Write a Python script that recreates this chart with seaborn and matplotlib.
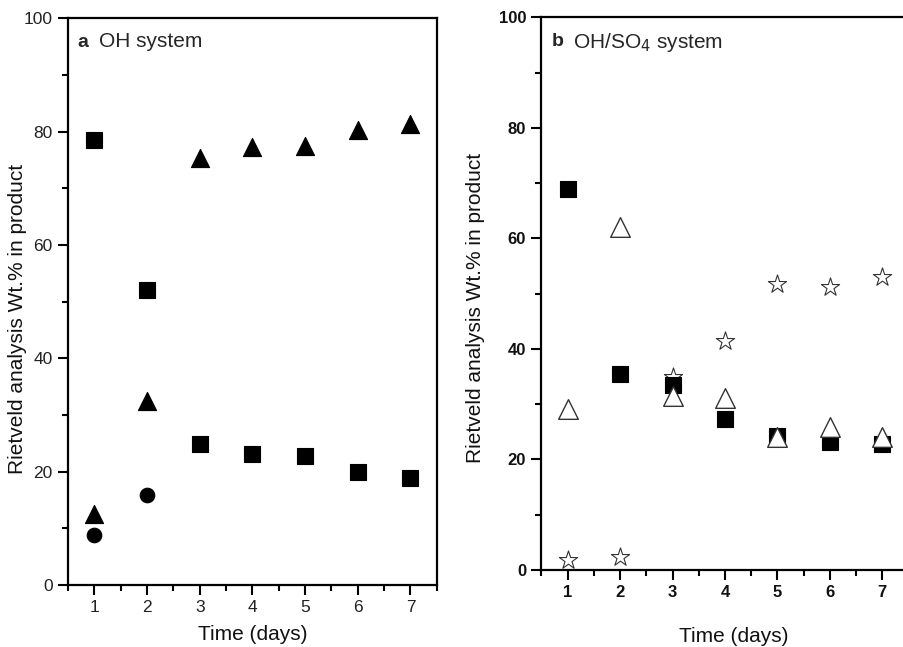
import matplotlib
matplotlib.use("Agg")
import matplotlib.pyplot as plt
import seaborn as sns
import pandas as pd
from matplotlib.ticker import MultipleLocator

# ---- data ----
days = [1, 2, 3, 4, 5, 6, 7]

# panel a: OH system
a_square_days = [1, 2, 3, 4, 5, 6, 7]
a_square = [78.5, 52.0, 24.8, 23.1, 22.8, 20.0, 18.8]
a_triangle_days = [1, 2, 3, 4, 5, 6, 7]
a_triangle = [12.6, 32.4, 75.3, 77.3, 77.5, 80.2, 81.3]
a_circle_days = [1, 2]
a_circle = [8.8, 15.8]

# panel b: OH/SO4 system
b_star_days = [1, 2, 3, 4, 5, 6, 7]
b_star = [1.9, 2.4, 35.0, 41.5, 51.8, 51.2, 53.1]
b_square_days = [1, 2, 3, 4, 5, 6, 7]
b_square = [68.9, 35.4, 33.5, 27.3, 24.2, 23.2, 22.8]
b_triangle_days = [1, 2, 3, 4, 5, 6, 7]
b_triangle = [29.1, 62.1, 31.5, 31.1, 24.1, 25.8, 24.1]

sns.set_theme(style="ticks")
plt.rcParams['font.family'] = ['Liberation Sans', 'DejaVu Sans']

fig = plt.figure(figsize=(9.04, 6.47), dpi=100)
axa = fig.add_axes([0.0752, 0.0958, 0.408, 0.876])
axb = fig.add_axes([0.599, 0.119, 0.406, 0.854])


def scat(ax, x, y, marker, s, filled=True, lw=0.8):
    df = pd.DataFrame({"day": x, "val": y})
    sns.scatterplot(data=df, x="day", y="val", ax=ax, marker=marker, s=s,
                    color="black" if filled else "white",
                    edgecolor="black" if filled else "#333333",
                    linewidth=lw, zorder=3, clip_on=False)


scat(axa, a_square_days, a_square, "s", 120)
scat(axa, a_triangle_days, a_triangle, "^", 170)
scat(axa, a_circle_days, a_circle, "o", 110)

scat(axb, b_star_days, b_star, "*", 190, filled=False, lw=0.8)
scat(axb, b_square_days, b_square, "s", 120)
scat(axb, b_triangle_days, b_triangle, "^", 200, filled=False, lw=1.0)

for ax, bold in ((axa, False), (axb, True)):
    ax.set_xlim(0.5, 7.5)
    ax.set_ylim(0, 100)
    ax.xaxis.set_major_locator(MultipleLocator(1))
    ax.xaxis.set_minor_locator(MultipleLocator(0.5))
    ax.yaxis.set_major_locator(MultipleLocator(20))
    ax.yaxis.set_minor_locator(MultipleLocator(10))
    ax.tick_params(which="major", direction="out", length=7, width=1.5,
                   labelsize=12 if bold else 12.5, color="black",
                   labelcolor="#111111" if bold else "#222222", pad=4)
    ax.tick_params(which="minor", direction="out", length=4, width=1.5, color="black")
    ax.tick_params(axis="x", which="both", top=False)
    ax.tick_params(axis="y", which="both", right=False)
    for sp in ax.spines.values():
        sp.set_visible(True)
        sp.set_linewidth(1.6)
        sp.set_color("black")
    ax.set_xlabel("Time (days)", fontsize=15, color="#111111")
    ax.set_ylabel("Rietveld analysis Wt.% in product", fontsize=15, color="#111111")
    if bold:
        for lab in ax.get_xticklabels() + ax.get_yticklabels():
            lab.set_fontweight("bold")
    ax.set_facecolor("white")

# label positions (axes fractions)
axa.xaxis.set_label_coords(0.5, -0.087)
axa.xaxis.label.set_va("center")
axa.yaxis.set_label_coords(-0.111, 0.47)
axb.xaxis.set_label_coords(0.524, -0.12)
axb.xaxis.label.set_va("center")
axb.yaxis.set_label_coords(-0.155, 0.475)

axa.text(0.025, 0.972, "a", transform=axa.transAxes, fontsize=14, fontweight="bold", va="top")
axa.text(0.085, 0.975, "OH system", transform=axa.transAxes, fontsize=15, va="top")
axb.text(0.028, 0.972, "b", transform=axb.transAxes, fontsize=14, fontweight="bold", va="top")
axb.text(0.085, 0.975, "OH/SO$_4$ system", transform=axb.transAxes, fontsize=15, va="top")

fig.savefig("out.png", dpi=100, facecolor="white")
